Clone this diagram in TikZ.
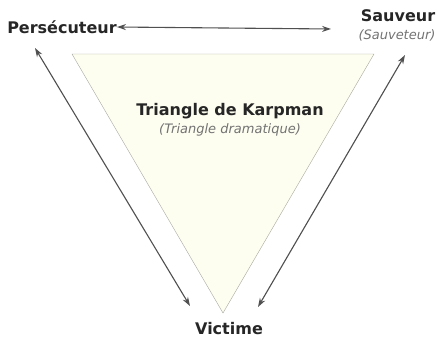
\documentclass[tikz,border=0pt]{standalone}
\usepackage{fontspec}
\setmainfont{DejaVu Sans}
\usetikzlibrary{arrows.meta}
\definecolor{cream}{HTML}{FDFDF0}
\definecolor{edge}{HTML}{A8A8A0}
\definecolor{linegray}{HTML}{505050}
\tikzstyle{role} = 
[
	font = \bfseries\fontsize{16}{18}\selectfont, 
	inner sep = 0pt,
	text = black!85
]
\tikzstyle{subrole} = 
[
	font = \itshape\fontsize{13}{15}\selectfont, 
	inner sep = 0pt,
	text = black!55
]
\tikzstyle{arrow} = [line width=1.1pt,linegray,{Stealth[length=9pt,width=6pt]}-{Stealth[length=9pt,width=6pt]}]

\begin{document}
\begin{tikzpicture}[x=1pt,y=-1pt]
	\useasboundingbox (0,0) rectangle (438,338);

	\filldraw
	[
		fill = cream,
		draw = edge
	]
	(72,54) -- (374,54) -- (223,313) -- cycle;

	\node 
	(Persecuteur) 
	[role] 
	at (62,27)
	{Persécuteur};

	\node 
	(Sauveur) 
	[role] 
	at (398,16)
	{Sauveur};

	\node 
	(Sauveteur) 
	[subrole] 
	at (397,35)
	{(Sauveteur)};

	\node 
	(Victime) 
	[role] 
	at (229,329)
	{Victime};

	\node 
	(Titre) 
	[role] 
	at (230,111)
	{Triangle de Karpman};

	\node 
	(SousTitre) 
	[subrole] 
	at (230,130)
	{(Triangle dramatique)};

	\coordinate (PerBas) at (35,48);
	\coordinate (VicGauche) at (190,306);
	\coordinate (SauBas) at (405,55);
	\coordinate (VicDroite) at (258,307);
	\coordinate (SauGauche) at (331,29);

	\draw [arrow] (Persecuteur.east) -- (SauGauche);
	\draw [arrow] (PerBas) -- (VicGauche);
	\draw [arrow] (SauBas) -- (VicDroite);
	
\end{tikzpicture}
\end{document}
